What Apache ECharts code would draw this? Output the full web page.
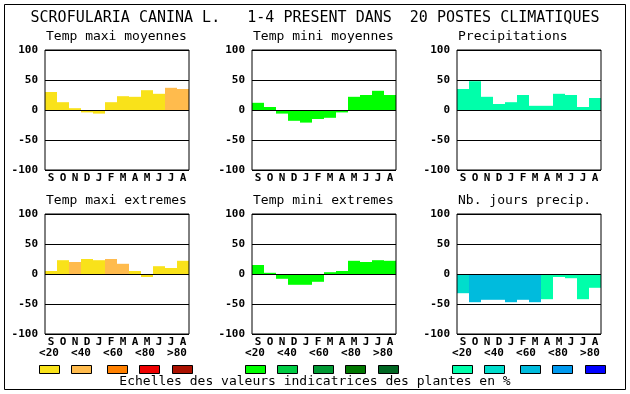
<!DOCTYPE html>
<html>
<head>
<meta charset="utf-8">
<script src="https://cdn.jsdelivr.net/npm/echarts@6/dist/echarts.min.js"></script>
<style>html,body{margin:0;padding:0;background:#fff}#c{width:630px;height:394px}</style>
</head>
<body>
<div id="c"></div>
<script>
// ---- data ----
const months = ['S','O','N','D','J','F','M','A','M','J','J','A'];
const scaleLabels = ['<20','<40','<60','<80','>80'];
const redScale   = ['#F9E21A','#FFBB4D','#FF8000','#EE0000','#AA1100'];
const greenScale = ['#00FF00','#00CC44','#009933','#007700','#006622'];
const blueScale  = ['#00FFAA','#00DDCC','#00BBDD','#0099EE','#0000FF'];

const maxiMoy     = [30, 13, 3, -4, -6, 13, 23, 22, 33, 27, 37, 35];
const maxiMoyCls  = [0, 0, 0, 0, 0, 0, 0, 0, 0, 0, 1, 1];
const miniMoy     = [12, 5, -6, -18, -21, -15, -13, -4, 22, 25, 32, 25];
const miniMoyCls  = [0, 0, 0, 0, 0, 0, 0, 0, 0, 0, 0, 0];
const precip      = [35, 48, 22, 10, 13, 25, 7, 7, 27, 25, 5, 20];
const precipCls   = [0, 0, 0, 0, 0, 0, 0, 0, 0, 0, 0, 0];
const maxiExt     = [5, 23, 20, 25, 23, 25, 17, 5, -5, 13, 10, 22];
const maxiExtCls  = [0, 0, 1, 0, 0, 1, 1, 0, 0, 0, 0, 0];
const miniExt     = [15, 2, -8, -18, -18, -13, 3, 5, 22, 20, 23, 22];
const miniExtCls  = [0, 0, 0, 0, 0, 0, 0, 0, 0, 0, 0, 0];
const nbJours     = [-32, -47, -43, -43, -47, -43, -47, -42, -5, -7, -42, -23];
const nbJoursCls  = [1, 2, 2, 2, 2, 2, 2, 0, 0, 0, 0, 0];

const titleText = 'SCROFULARIA CANINA L.   1-4 PRESENT DANS  20 POSTES CLIMATIQUES';
const footerText = 'Echelles des valeurs indicatrices des plantes en %';

const panels = [
  {name:'Temp maxi moyennes', vals:maxiMoy, cls:maxiMoyCls, scale:redScale},
  {name:'Temp mini moyennes', vals:miniMoy, cls:miniMoyCls, scale:greenScale},
  {name:'Precipitations',     vals:precip,  cls:precipCls,  scale:blueScale},
  {name:'Temp maxi extremes', vals:maxiExt, cls:maxiExtCls, scale:redScale},
  {name:'Temp mini extremes', vals:miniExt, cls:miniExtCls, scale:greenScale},
  {name:'Nb. jours precip.',  vals:nbJours, cls:nbJoursCls, scale:blueScale}
];

// ---- layout ----
const MONO = '"DejaVu Sans Mono", "Liberation Mono", monospace';
const colLeft = [45, 252, 457];
const rowTop = [50, 214];
const GW = 144, GH = 120;

const grids = [], xAxes = [], yAxes = [], series = [], graphics = [];
panels.forEach((p, i) => {
  const col = i % 3, row = Math.floor(i / 3);
  grids.push({left: colLeft[col], top: rowTop[row], width: GW, height: GH,
    show: true, borderColor: '#000', borderWidth: 1, z: 3, backgroundColor: 'transparent'});
  xAxes.push({type: 'category', gridIndex: i, data: months,
    axisLine: {show: false}, axisTick: {show: false},
    axisLabel: {color: '#000', fontFamily: MONO, fontWeight: 'bold', fontSize: 11, margin: 3, interval: 0},
    splitLine: {show: false}});
  yAxes.push({type: 'value', gridIndex: i, min: -100, max: 100, interval: 50, z: 3,
    axisLine: {show: false}, axisTick: {show: false},
    axisLabel: {color: '#000', fontFamily: MONO, fontWeight: 'bold', fontSize: 11, margin: 7},
    splitLine: {show: true, lineStyle: {color: '#000', width: 1}}});
  series.push({type: 'bar', xAxisIndex: i, yAxisIndex: i, barCategoryGap: '0%', barGap: '0%',
    z: 2, animation: false, silent: true,
    data: p.vals.map((v, k) => ({value: v, itemStyle: {color: p.scale[p.cls[k]]}}))});
  graphics.push({type: 'text', x: colLeft[col] + 1, y: rowTop[row] - 13,
    style: {text: p.name, font: '13px ' + MONO, fill: '#000', align: 'left', verticalAlign: 'middle'}});
});

graphics.push({type: 'rect', shape: {x: 4.5, y: 4.5, width: 621, height: 385},
  style: {fill: 'none', stroke: '#000', lineWidth: 1}});
graphics.push({type: 'text', x: 315, y: 18,
  style: {text: titleText, font: '15px ' + MONO, fill: '#000', align: 'center', verticalAlign: 'middle'}});
graphics.push({type: 'text', x: 315, y: 382,
  style: {text: footerText, font: '13px ' + MONO, fill: '#000', align: 'center', verticalAlign: 'middle'}});

const legendGroupX = [39, 245, 452];
const boxOff = [0, 32, 68, 100, 133];
const labOff = [0, 32, 64, 96, 128];
const legendScales = [redScale, greenScale, blueScale];
legendGroupX.forEach((gx, g) => {
  scaleLabels.forEach((lab, k) => {
    graphics.push({type: 'text', x: gx + labOff[k] + 10, y: 353,
      style: {text: lab, font: 'bold 11px ' + MONO, fill: '#000', align: 'center', verticalAlign: 'middle'}});
    graphics.push({type: 'rect', shape: {x: gx + boxOff[k] + 0.5, y: 365.5, width: 20, height: 8},
      style: {fill: legendScales[g][k], stroke: '#000', lineWidth: 1}});
  });
});

const chart = echarts.init(document.getElementById('c'), null, {renderer: 'canvas'});
chart.setOption({
  animation: false,
  backgroundColor: '#fff',
  grid: grids, xAxis: xAxes, yAxis: yAxes, series: series,
  graphic: graphics
});
</script>
</body>
</html>
